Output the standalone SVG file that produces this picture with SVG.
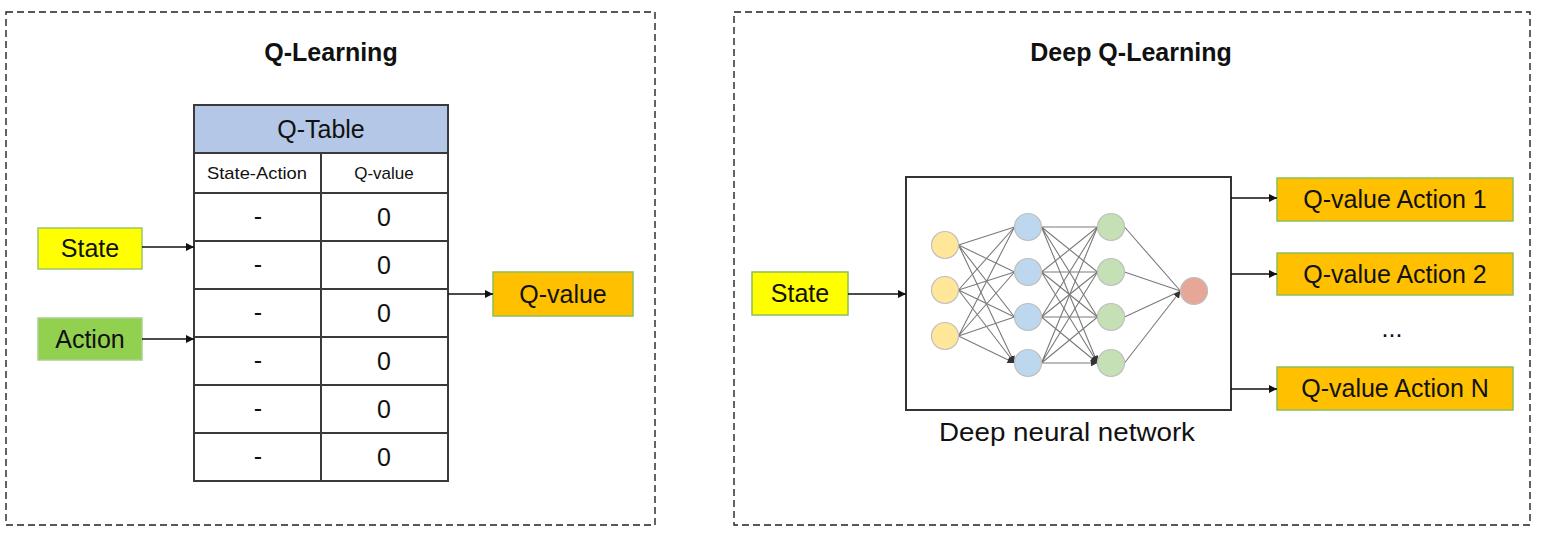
<svg xmlns="http://www.w3.org/2000/svg" width="1560" height="557" viewBox="0 0 1560 557">
<defs>
<style>
text{font-family:"Liberation Sans",Arial,sans-serif;fill:#111;text-anchor:middle}
.title{font-weight:bold;font-size:25px}
.lbl{font-size:25px}
.sm{font-size:17px}
.frame{fill:none;stroke:#222;stroke-width:1.4;stroke-dasharray:7 4}
.tbl{fill:none;stroke:#3a3a3a;stroke-width:2}
.conn{stroke:#111;stroke-width:1.5;fill:none}
.edge{stroke:#7a7a7a;stroke-width:1.1;fill:none}
.n1{fill:#FFE699;stroke:#BFBFBF;stroke-width:1.2}
.n2{fill:#BDD7EE;stroke:#BFBFBF;stroke-width:1.2}
.n3{fill:#C5E0B4;stroke:#BFBFBF;stroke-width:1.2}
.n4{fill:#E6A798;stroke:#BFBFBF;stroke-width:1.2}
</style>
<marker id="arr" viewBox="0 0 10 10" refX="10" refY="5" markerWidth="9" markerHeight="8" markerUnits="userSpaceOnUse" orient="auto">
<path d="M0,0 L10,5 L0,10 z" fill="#111"/>
</marker>
<marker id="arrs" viewBox="0 0 10 10" refX="10" refY="5" markerWidth="7" markerHeight="7" markerUnits="userSpaceOnUse" orient="auto">
<path d="M0,0 L10,5 L0,10 z" fill="#333"/>
</marker>
</defs>
<rect width="1560" height="557" fill="#fff"/>

<g id="frame-qlearning">
<rect class="frame" x="6" y="12" width="649" height="513"/>
<text class="title" x="331" y="61">Q-Learning</text>
</g>
<g id="frame-deepq">
<rect class="frame" x="734" y="12" width="796" height="513"/>
<text class="title" x="1131" y="61">Deep Q-Learning</text>
</g>

<g id="qtable">
<rect x="194" y="105" width="254" height="48" fill="#B4C7E7"/>
<text class="lbl" x="321" y="138">Q-Table</text>
<rect class="tbl" x="194" y="105" width="254" height="376"/>
<path class="tbl" d="M194,153H448M194,193H448M194,241H448M194,289H448M194,337H448M194,385H448M194,433H448M321,153V481"/>
<text class="sm" x="257" y="179" textLength="100" lengthAdjust="spacingAndGlyphs">State-Action</text>
<text class="sm" x="384" y="179">Q-value</text>
<g class="lbl">
<text x="258" y="225">-</text><text x="384" y="226">0</text>
<text x="258" y="273">-</text><text x="384" y="274">0</text>
<text x="258" y="321">-</text><text x="384" y="322">0</text>
<text x="258" y="369">-</text><text x="384" y="370">0</text>
<text x="258" y="417">-</text><text x="384" y="418">0</text>
<text x="258" y="465">-</text><text x="384" y="466">0</text>
</g>
</g>

<g id="state-left">
<rect x="38" y="228" width="104" height="41" fill="#FFFF00" stroke="#9DC36F" stroke-width="1.5"/>
<text class="lbl" x="90" y="257">State</text>
</g>
<g id="action-left">
<rect x="38" y="318" width="104" height="42" fill="#92D050" stroke="#A9D18E" stroke-width="1.5"/>
<text class="lbl" x="90" y="348">Action</text>
</g>
<g id="qvalue-left">
<rect x="493" y="272" width="140" height="44" fill="#FFC000" stroke="#8DBF5A" stroke-width="1.5"/>
<text class="lbl" x="563" y="303">Q-value</text>
</g>

<g id="state-right">
<rect x="752" y="272" width="96" height="43" fill="#FFFF00" stroke="#8DBF5A" stroke-width="1.5"/>
<text class="lbl" x="800" y="302">State</text>
</g>

<g id="dnn">
<rect x="906" y="177" width="325" height="233" fill="#fff" stroke="#333" stroke-width="2"/>
<g id="dnn-edges">
<path class="edge" marker-end="url(#arrs)" d="M958.5,245L1014.5,227M958.5,245L1014.5,272M958.5,245L1014.5,317M958.5,245L1014.5,363"/>
<path class="edge" marker-end="url(#arrs)" d="M958.5,290L1014.5,227M958.5,290L1014.5,272M958.5,290L1014.5,317M958.5,290L1014.5,363"/>
<path class="edge" marker-end="url(#arrs)" d="M958.5,336L1014.5,227M958.5,336L1014.5,272M958.5,336L1014.5,317M958.5,336L1014.5,363"/>
<path class="edge" marker-end="url(#arrs)" d="M1041.5,227L1097.5,227M1041.5,227L1097.5,272M1041.5,227L1097.5,317M1041.5,227L1097.5,363"/>
<path class="edge" marker-end="url(#arrs)" d="M1041.5,272L1097.5,227M1041.5,272L1097.5,272M1041.5,272L1097.5,317M1041.5,272L1097.5,363"/>
<path class="edge" marker-end="url(#arrs)" d="M1041.5,317L1097.5,227M1041.5,317L1097.5,272M1041.5,317L1097.5,317M1041.5,317L1097.5,363"/>
<path class="edge" marker-end="url(#arrs)" d="M1041.5,363L1097.5,227M1041.5,363L1097.5,272M1041.5,363L1097.5,317M1041.5,363L1097.5,363"/>
<path class="edge" marker-end="url(#arrs)" d="M1124.5,227L1180.5,291M1124.5,272L1180.5,291M1124.5,317L1180.5,291M1124.5,363L1180.5,291"/>
</g>
<g id="dnn-neurons">
<circle class="n1" cx="945" cy="245" r="13.5"/>
<circle class="n1" cx="945" cy="290" r="13.5"/>
<circle class="n1" cx="945" cy="336" r="13.5"/>
<circle class="n2" cx="1028" cy="227" r="13.5"/>
<circle class="n2" cx="1028" cy="272" r="13.5"/>
<circle class="n2" cx="1028" cy="317" r="13.5"/>
<circle class="n2" cx="1028" cy="363" r="13.5"/>
<circle class="n3" cx="1111" cy="227" r="13.5"/>
<circle class="n3" cx="1111" cy="272" r="13.5"/>
<circle class="n3" cx="1111" cy="317" r="13.5"/>
<circle class="n3" cx="1111" cy="363" r="13.5"/>
<circle class="n4" cx="1194" cy="291" r="13.5"/>
</g>
<text class="lbl" x="1067" y="441" textLength="256" lengthAdjust="spacingAndGlyphs">Deep neural network</text>
</g>

<g id="out1">
<rect x="1277" y="178" width="236" height="43" fill="#FFC000" stroke="#8DBF5A" stroke-width="1.5"/>
<text class="lbl" x="1395" y="208">Q-value Action 1</text>
</g>
<g id="out2">
<rect x="1277" y="253" width="236" height="42" fill="#FFC000" stroke="#8DBF5A" stroke-width="1.5"/>
<text class="lbl" x="1395" y="283">Q-value Action 2</text>
</g>
<text class="lbl" x="1392" y="337">...</text>
<g id="outN">
<rect x="1277" y="367" width="236" height="43" fill="#FFC000" stroke="#8DBF5A" stroke-width="1.5"/>
<text class="lbl" x="1395" y="397">Q-value Action N</text>
</g>

<g id="connectors">
<line class="conn" x1="142" y1="247" x2="194" y2="247" marker-end="url(#arr)"/>
<line class="conn" x1="142" y1="339" x2="194" y2="339" marker-end="url(#arr)"/>
<line class="conn" x1="448" y1="294" x2="493" y2="294" marker-end="url(#arr)"/>
<line class="conn" x1="848" y1="294" x2="906" y2="294" marker-end="url(#arr)"/>
<line class="conn" x1="1231" y1="198" x2="1277" y2="198" marker-end="url(#arr)"/>
<line class="conn" x1="1231" y1="274" x2="1277" y2="274" marker-end="url(#arr)"/>
<line class="conn" x1="1231" y1="389" x2="1277" y2="389" marker-end="url(#arr)"/>
</g>
</svg>
